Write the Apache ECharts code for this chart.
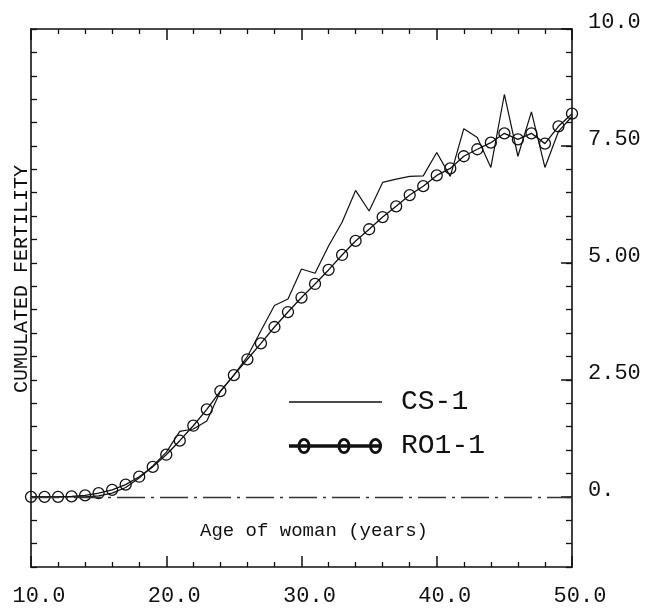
<!DOCTYPE html>
<html>
<head>
<meta charset="utf-8">
<script src="https://cdn.jsdelivr.net/npm/echarts@6/dist/echarts.min.js"></script>
<style>
  html, body { margin: 0; padding: 0; background: #fff; }
  #chart { width: 652px; height: 609px; }
</style>
</head>
<body>
<div id="chart"></div>
<script>
// age of woman, one point per year
var ages = [10, 11, 12, 13, 14, 15, 16, 17, 18, 19, 20, 21, 22, 23, 24, 25, 26, 27, 28, 29,
  30, 31, 32, 33, 34, 35, 36, 37, 38, 39, 40, 41, 42, 43, 44, 45, 46, 47, 48, 49, 50]

// CS-1 (thin line, no markers)
var cs1 = [0, 0, 0, 0, 0, 0.02, 0.08, 0.2, 0.4, 0.66, 0.95, 1.4, 1.45, 1.62, 2.25, 2.6, 3.0, 3.55, 4.09, 4.23,
  4.87, 4.78, 5.36, 5.87, 6.55, 6.11, 6.72, 6.79, 6.85, 6.86, 7.36, 6.85, 7.87, 7.68, 7.04, 8.6, 7.28, 8.23, 7.04, 7.81, 8.13]

// RO1-1 (line with circles)
var ro11 = [0, 0, 0, 0.01, 0.03, 0.08, 0.15, 0.26, 0.43, 0.64, 0.9, 1.2, 1.52, 1.87, 2.26, 2.6, 2.94, 3.28, 3.63, 3.95,
  4.26, 4.55, 4.85, 5.17, 5.47, 5.72, 5.98, 6.21, 6.45, 6.64, 6.87, 7.02, 7.28, 7.43, 7.57, 7.77, 7.64, 7.77, 7.55, 7.92, 8.19]

var xTickValues = [10, 20, 30, 40, 50]
var xTickLabels = ['10.0', '20.0', '30.0', '40.0', '50.0']
var yTickValues = [0, 2.5, 5, 7.5, 10]
var yTickLabels = ['0.', '2.50', '5.00', '7.50', '10.0']

var FONT = 'Liberation Mono'
var INK = '#111'

function pickLabel(values, labels, v) {
  for (var i = 0; i < values.length; i++) {
    if (Math.abs(values[i] - v) < 1e-6) return labels[i]
  }
  return ''
}

// legend icons: plain line, and line with three rings
var csIcon = 'path://M0,0H93V1.4H0Z'
function ring(cx) {
  return 'M' + (cx - 6.5) + ',8A6.5,8 0 1 1 ' + (cx + 6.5) + ',8A6.5,8 0 1 1 ' + (cx - 6.5) + ',8Z' +
    'M' + (cx - 3.6) + ',8A3.6,5.2 0 1 0 ' + (cx + 3.6) + ',8A3.6,5.2 0 1 0 ' + (cx - 3.6) + ',8Z'
}
var roIcon = 'path://M0,6.3H93V9.7H0Z' + ring(15) + ring(55) + ring(86.5)

var chart = echarts.init(document.getElementById('chart'))

function frameLine() {
  return { show: true, onZero: false, lineStyle: { color: INK, width: 1.6 } }
}

function xAxisDef(pos, showLabel) {
  return {
    type: 'value', position: pos, min: 10, max: 50, interval: 10,
    axisLine: frameLine(),
    axisTick: { show: true, inside: true, length: 11, lineStyle: { color: INK, width: 1.5 } },
    minorTick: { show: true, splitNumber: 5, length: 5, lineStyle: { color: INK, width: 1.3 } },
    splitLine: { show: false },
    axisLabel: {
      show: showLabel,
      margin: 18, fontFamily: FONT, fontSize: 22, color: INK, padding: [0, 0, 0, 16],
      formatter: function (v) { return pickLabel(xTickValues, xTickLabels, v) }
    }
  }
}

var option = {
  animation: false,
  backgroundColor: '#fff',
  grid: { left: 31, top: 29, right: 80, bottom: 42 },
  legend: {
    orient: 'vertical',
    left: 284,
    top: 382,
    itemGap: 14,
    itemWidth: 93,
    itemHeight: 16,
    selectedMode: false,
    textStyle: { fontFamily: FONT, fontSize: 28, color: INK, lineHeight: 30, padding: [0, 0, 0, 14] },
    data: [
      { name: 'CS-1', icon: csIcon, itemStyle: { color: INK, borderWidth: 0 } },
      { name: 'RO1-1', icon: roIcon, itemStyle: { color: INK, borderWidth: 0 } }
    ]
  },
  xAxis: [xAxisDef('bottom', true), xAxisDef('top', false)],
  yAxis: [
    {
      type: 'value', position: 'left', min: -1.5, max: 10, interval: 0.5,
      axisLine: frameLine(),
      axisTick: { show: true, inside: true, length: 6, lineStyle: { color: INK, width: 1.3 } },
      splitLine: { show: false },
      axisLabel: { show: false }
    },
    {
      type: 'value', position: 'right', min: -1.5, max: 10, interval: 0.5,
      axisLine: frameLine(),
      axisTick: { show: true, inside: true, length: 6, lineStyle: { color: INK, width: 1.3 } },
      splitLine: { show: false },
      axisLabel: {
        margin: 16, fontFamily: FONT, fontSize: 22, color: INK,
        verticalAlign: 'bottom', lineHeight: 14,
        formatter: function (v) { return pickLabel(yTickValues, yTickLabels, v) }
      }
    },
    {
      // longer ticks at the labelled values
      type: 'value', position: 'right', min: -1.5, max: 10, interval: 0.5,
      axisLine: { show: false },
      axisTick: { show: true, inside: true, length: 11, customValues: yTickValues, lineStyle: { color: INK, width: 1.5 } },
      splitLine: { show: false },
      axisLabel: { show: false }
    }
  ],
  graphic: [
    {
      type: 'text', x: 314, y: 531,
      style: { text: 'Age of woman (years)', font: '19px "Liberation Mono"', fill: INK, align: 'center', verticalAlign: 'middle' }
    },
    {
      type: 'text', x: 22, y: 279, rotation: Math.PI / 2,
      style: { text: 'CUMULATED FERTILITY', font: '20px "Liberation Mono"', fill: INK, align: 'center', verticalAlign: 'middle' }
    }
  ],
  series: [
    {
      name: 'CS-1',
      type: 'line',
      data: ages.map(function (a, i) { return [a, cs1[i]] }),
      showSymbol: false,
      symbol: 'none',
      lineStyle: { color: INK, width: 1.2 },
      itemStyle: { color: INK },
      markLine: {
        silent: true,
        symbol: 'none',
        label: { show: false },
        lineStyle: { type: [28, 6, 3, 6], color: '#333', width: 1.3 },
        data: [{ yAxis: 0 }]
      }
    },
    {
      name: 'RO1-1',
      type: 'line',
      data: ages.map(function (a, i) { return [a, ro11[i]] }),
      symbol: 'circle',
      symbolSize: 11,
      lineStyle: { color: INK, width: 1.3 },
      itemStyle: { color: 'rgba(0,0,0,0)', borderColor: INK, borderWidth: 1.3 }
    }
  ]
}

chart.setOption(option)
</script>
</body>
</html>
